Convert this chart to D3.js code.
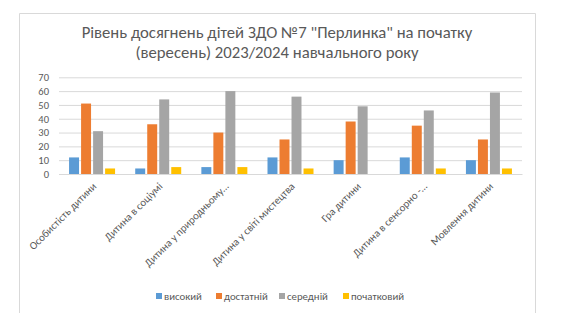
<!DOCTYPE html>
<html>
<head>
<meta charset="utf-8">
<script src="https://cdn.jsdelivr.net/npm/d3@7"></script>
<style>
  html, body { margin: 0; padding: 0; background: #fff; }
  svg { display: block; }
</style>
</head>
<body>
<svg id="chart" width="561" height="328"></svg>
<script>
// Categories (areas of development) and values for each level
const categories = [
  "Особистість дитини",
  "Дитина в соціумі",
  "Дитина у природньому…",
  "Дитина у світі мистецтва",
  "Гра дитини",
  "Дитина в сенсорно -…",
  "Мовлення дитини"
];
const seriesNames = ["високий", "достатній", "середній", "початковий"];
const high = [12, 4, 5, 12, 10, 12, 10];
const sufficient = [51, 36, 30, 25, 38, 35, 25];
const medium = [31, 54, 60, 56, 49, 46, 59];
const initial = [4, 5, 5, 4, 0, 4, 4];
const yTicks = [0, 10, 20, 30, 40, 50, 60, 70];
const titleLines = [
  "Рівень досягнень дітей ЗДО №7 \"Перлинка\" на початку",
  "(вересень) 2023/2024 навчального року"
];

const seriesValues = [high, sufficient, medium, initial];
const colors = ["#5b9bd5", "#ed7d31", "#a5a5a5", "#ffc000"];
const textColor = "#595959";
const font = "Carlito, 'Liberation Sans', 'DejaVu Sans', sans-serif";

const svg = d3.select("#chart");

// Chart frame (bottom edge falls outside the visible area)
svg.append("path")
  .attr("d", "M19.5,313 V13.5 H535.5 V313")
  .attr("fill", "none")
  .attr("stroke", "#d9d9d9")
  .attr("stroke-width", 1);

// Title
svg.append("g").selectAll("text")
  .data(titleLines)
  .join("text")
  .attr("x", 277)
  .attr("y", (d, i) => 38 + i * 19.5)
  .attr("text-anchor", "middle")
  .attr("font-family", font)
  .attr("font-size", 16.7)
  .attr("fill", textColor)
  .text(d => d);

const plot = { left: 59, right: 522, top: 77.3, bottom: 174 };

const y = d3.scaleLinear().domain([0, 70]).range([plot.bottom, plot.top]);
const x0 = d3.scaleBand().domain(categories).range([plot.left, plot.right]).padding(0);
const groupWidth = 46;
const x1 = d3.scaleBand().domain(seriesNames)
  .range([(x0.bandwidth() - groupWidth) / 2, (x0.bandwidth() + groupWidth) / 2])
  .paddingInner(0.17);

// Gridlines and y axis labels
const yAxis = d3.axisLeft(y)
  .tickValues(yTicks)
  .tickSize(-(plot.right - plot.left))
  .tickPadding(10);
const gy = svg.append("g")
  .attr("transform", `translate(${plot.left},0)`)
  .call(yAxis);
gy.select(".domain").remove();
gy.selectAll(".tick line").attr("stroke", "#d9d9d9").attr("stroke-width", 1);
gy.selectAll(".tick text")
  .attr("font-family", font)
  .attr("font-size", 10.5)
  .attr("fill", textColor);

// Bars
const rows = categories.map((c, i) => ({
  category: c,
  values: seriesNames.map((s, k) => ({ series: s, value: seriesValues[k][i], color: colors[k] }))
}));

svg.append("g").selectAll("g")
  .data(rows)
  .join("g")
  .attr("transform", d => `translate(${x0(d.category)},0)`)
  .selectAll("rect")
  .data(d => d.values)
  .join("rect")
  .attr("x", d => x1(d.series))
  .attr("width", x1.bandwidth())
  .attr("y", d => y(d.value))
  .attr("height", d => y(0) - y(d.value))
  .attr("fill", d => d.color);

// Category axis with rotated labels
const xAxis = d3.axisBottom(x0).tickSize(0).tickPadding(0);
const gx = svg.append("g")
  .attr("transform", `translate(0,${plot.bottom})`)
  .call(xAxis);
gx.select(".domain").attr("stroke", "#d9d9d9");
gx.selectAll(".tick text")
  .attr("font-family", font)
  .attr("font-size", 10.8)
  .attr("fill", textColor)
  .attr("text-anchor", "end")
  .attr("dy", 0)
  .attr("transform", "translate(5,13) rotate(-45)");

// Legend
const legendX = [156, 216, 279, 343];
const legend = svg.append("g").selectAll("g")
  .data(seriesNames)
  .join("g")
  .attr("transform", (d, i) => `translate(${legendX[i]},296)`);
legend.append("rect")
  .attr("x", 0).attr("y", -3)
  .attr("width", 6).attr("height", 6)
  .attr("fill", (d, i) => colors[i]);
legend.append("text")
  .attr("x", 8)
  .attr("y", 3.5)
  .attr("font-family", font)
  .attr("font-size", 10.8)
  .attr("fill", textColor)
  .text(d => d);
</script>
</body>
</html>
